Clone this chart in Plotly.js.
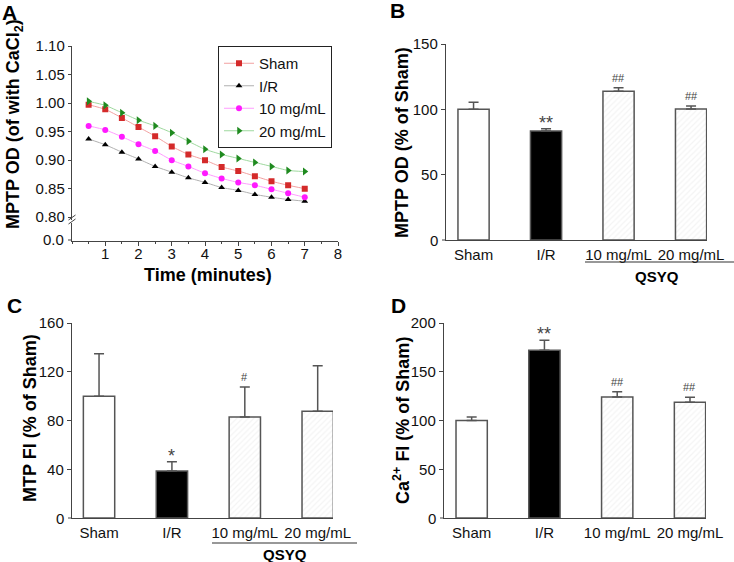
<!DOCTYPE html>
<html>
<head>
<meta charset="utf-8">
<script src="https://cdn.plot.ly/plotly-3.0.1.min.js"></script>
<style>html,body{margin:0;padding:0;background:#fff;}#chart{width:734px;height:562px;}</style>
</head>
<body>
<div id="chart"></div>
<script>
// ---- Panel A data: MPTP OD over time ----
const time = [0.5, 1, 1.5, 2, 2.5, 3, 3.5, 4, 4.5, 5, 5.5, 6, 6.5, 7];
const odSham = [0.997, 0.989, 0.974, 0.958, 0.942, 0.924, 0.910, 0.900, 0.888, 0.881, 0.872, 0.863, 0.856, 0.850];
const odIR   = [0.937, 0.927, 0.914, 0.902, 0.889, 0.879, 0.869, 0.861, 0.852, 0.847, 0.840, 0.835, 0.831, 0.828];
const od10   = [0.960, 0.953, 0.941, 0.928, 0.916, 0.900, 0.889, 0.877, 0.868, 0.861, 0.856, 0.849, 0.842, 0.835];
const od20   = [1.003, 0.996, 0.983, 0.970, 0.960, 0.948, 0.933, 0.919, 0.910, 0.903, 0.896, 0.889, 0.882, 0.880];
const seriesNames = ['Sham', 'I/R', '10 mg/mL', '20 mg/mL'];
const aTickVals = [0.80, 0.85, 0.90, 0.95, 1.00, 1.05, 1.10];
const timeTicks = [1, 2, 3, 4, 5, 6, 7, 8];

// ---- Bar panels ----
const groups = ['Sham', 'I/R', '10 mg/mL', '20 mg/mL'];
const mptpOD = [100, 83.5, 113.8, 100.3];
const mptpODErr = [5.4, 1.7, 2.8, 2.3];
const mtpFI = [100, 38.6, 82.9, 87.5];
const mtpFIErr = [34.8, 7.6, 24.6, 37.5];
const caFI = [100, 172, 124.1, 118.6];
const caFIErr = [3.7, 10.2, 5.5, 5.2];
const sigB = ['', '**', '##', '##'];
const sigC = ['', '*', '#', ''];
const sigD = ['', '**', '##', '##'];
const ticksB = [50, 100, 150];
const ticksC = [40, 80, 120, 160];
const ticksD = [50, 100, 150, 200];

const W = 734, H = 562;
const px = v => v / W;
const py = v => 1 - v / H;
const FONT = 'Arial, "Liberation Sans", sans-serif';
const AX = '#444';

const lineCols = ['#f2a0a0', '#b0b0b0', '#ff9cff', '#9ed89e'];
const markCols = ['#d42a2a', '#000000', '#ff1aff', '#1f8a1f'];
const symbols = ['square', 'triangle-up', 'circle', 'triangle-right'];
const odSeries = [odSham, odIR, od10, od20];

const traces = [];
odSeries.forEach((ys, i) => {
  traces.push({
    type: 'scatter', mode: 'lines+markers', x: time, y: ys, name: seriesNames[i],
    xaxis: 'x', yaxis: 'y',
    line: {color: lineCols[i], width: 1, shape: 'spline', smoothing: 0.6},
    marker: {color: markCols[i], symbol: symbols[i], size: i === 3 ? 7 : 6}
  });
});

const barColors = ['#ffffff', '#000000', '#f4f4f4', '#f4f4f4'];
function barTrace(vals, errs, xa, ya) {
  return {
    type: 'bar', x: groups, y: vals, xaxis: xa, yaxis: ya, width: 0.43, showlegend: false,
    marker: {
      color: barColors,
      line: {color: '#555', width: 1.5},
      pattern: {shape: ['', '', '/', '/'], fgcolor: '#cfcfcf', bgcolor: barColors, size: 4, solidity: 0.3}
    },
    error_y: {type: 'data', array: errs, arrayminus: groups.map(() => 0), symmetric: false,
              color: '#555', thickness: 1.5, width: 5}
  };
}
traces.push(barTrace(mptpOD, mptpODErr, 'x2', 'y3'));
traces.push(barTrace(mtpFI, mtpFIErr, 'x3', 'y4'));
traces.push(barTrace(caFI, caFIErr, 'x4', 'y5'));

const tickFont = {family: FONT, size: 15, color: '#111'};
function catAxis(d0, d1, anchor, lo, hi) {
  return {domain: [px(d0), px(d1)], anchor: anchor, type: 'category', range: [lo, hi],
    showline: true, linecolor: AX, linewidth: 1.2, showgrid: false, zeroline: false,
    ticks: 'outside', ticklen: 1, tickcolor: 'rgba(0,0,0,0)', tickfont: tickFont};
}
function valAxis(top, bot, anchor, max, tv) {
  return {domain: [py(bot), py(top)], anchor: anchor, range: [0, max], tickvals: tv,
    showline: true, linecolor: AX, linewidth: 1.2, showgrid: false, zeroline: false,
    ticks: 'outside', ticklen: 4, tickcolor: AX, tickfont: tickFont};
}

const annotations = [];
const shapes = [];
function note(text, x, y, size, extra) {
  annotations.push(Object.assign({text: text, xref: 'paper', yref: 'paper', x: px(x), y: py(y),
    xanchor: 'center', yanchor: 'middle', showarrow: false,
    font: {family: FONT, size: size, color: '#000'}}, extra || {}));
}
// panel letters
[['A', 9, 12], ['B', 397, 11], ['C', 14, 305], ['D', 398, 305]].forEach(([t, x, y]) => note('<b>' + t + '</b>', x, y, 21));
// y titles
[['<b>MPTP OD (of with CaCl<sub>2</sub>)</b>', 15, 124],
 ['<b>MPTP OD (% of Sham)</b>', 402, 143],
 ['<b>MTP FI (% of Sham)</b>', 30, 418],
 ['<b>Ca<sup>2+</sup> FI (% of Sham)</b>', 401, 421]].forEach(([t, x, y]) => note(t, x, y, 18, {textangle: -90}));
// x title A
note('<b>Time (minutes)</b>', 208, 275, 18);
// zero labels at the axis origins (plotly hides the corner tick label)
[['0.0', 66, 'y2'], ['0', 440, 'y3'], ['0', 66, 'y4'], ['0', 438, 'y5']].forEach(([t, x, ya]) => {
  annotations.push({text: t, xref: 'paper', yref: ya, x: px(x), y: 0, xanchor: 'right', yanchor: 'middle',
    showarrow: false, font: tickFont});
});
// QSYQ brackets
[[585, 734, 262, 657, 276], [212, 357, 543, 285, 554]].forEach(([x0, x1, yl, xt, yt]) => {
  shapes.push({type: 'line', xref: 'paper', yref: 'paper', x0: px(x0), x1: px(x1), y0: py(yl), y1: py(yl),
    line: {color: '#333', width: 1.2}});
  note('<b>QSYQ</b>', xt, yt, 15);
});
// significance marks
function sig(marks, vals, errs, xa, ya) {
  marks.forEach((m, i) => {
    if (!m) return;
    const star = m[0] === '*';
    annotations.push({text: m, xref: xa, yref: ya, x: groups[i], y: vals[i] + errs[i],
      xanchor: 'center', yanchor: 'middle', yshift: star ? 6 : 10, showarrow: false,
      font: {family: FONT, size: star ? 18 : 11, color: '#444'}});
  });
}
sig(sigB, mptpOD, mptpODErr, 'x2', 'y3');
sig(sigC, mtpFI, mtpFIErr, 'x3', 'y4');
sig(sigD, caFI, caFIErr, 'x4', 'y5');
// axis break marks (panel A)
[217.5, 221.5].forEach(y => {
  shapes.push({type: 'line', xref: 'paper', yref: 'paper', x0: px(68.5), x1: px(75.5), y0: py(y + 2.5), y1: py(y - 2.5),
    line: {color: AX, width: 1}});
});
// small tick marks at the origin of each value axis
[[72, 240], [446, 240], [72, 518], [444, 518]].forEach(([x, y]) => {
  shapes.push({type: 'line', xref: 'paper', yref: 'paper', x0: px(x - 4), x1: px(x), y0: py(y), y1: py(y),
    line: {color: AX, width: 1}});
});

const layout = {
  width: W, height: H, margin: {l: 0, r: 0, t: 0, b: 0},
  paper_bgcolor: '#fff', plot_bgcolor: 'rgba(0,0,0,0)',
  font: {family: FONT, color: '#111'},
  showlegend: true,
  legend: {x: px(218), y: py(46), xanchor: 'left', yanchor: 'top', bgcolor: '#fff',
    bordercolor: '#222', borderwidth: 1, font: {family: FONT, size: 15, color: '#111'},
    itemwidth: 30, tracegroupgap: 0},
  xaxis: {domain: [px(72), px(338)], anchor: 'y2', range: [0, 8], tickvals: timeTicks,
    showline: true, linecolor: AX, linewidth: 1.2, showgrid: false, zeroline: false,
    ticks: 'outside', ticklen: 4, tickcolor: AX, tickfont: tickFont, ticklabelstandoff: -5,
    minor: {tickmode: 'linear', tick0: 0, dtick: 0.5, ticks: 'outside', ticklen: 2, tickcolor: AX}},
  yaxis: {domain: [py(219.5), py(46)], anchor: 'x', range: [0.796, 1.10], tickvals: aTickVals, tickformat: '.2f',
    showline: true, linecolor: AX, linewidth: 1.2, showgrid: false, zeroline: false,
    ticks: 'outside', ticklen: 3, tickcolor: AX, tickfont: tickFont},
  yaxis2: {domain: [py(241), py(223)], anchor: 'x', range: [-0.06, 1], showticklabels: false,
    showline: true, linecolor: AX, linewidth: 1.2, showgrid: false, zeroline: false, ticks: ''},
  xaxis2: catAxis(446, 707, 'y3', -0.38, 3.22),
  yaxis3: valAxis(44, 240, 'x2', 150, ticksB),
  xaxis3: catAxis(72, 333, 'y4', -0.371, 3.21),
  yaxis4: valAxis(323, 518, 'x3', 160, ticksC),
  xaxis4: catAxis(444, 706, 'y5', -0.38, 3.22),
  yaxis5: valAxis(323, 518, 'x4', 200, ticksD),
  annotations: annotations,
  shapes: shapes
};

Plotly.newPlot('chart', traces, layout, {staticPlot: true, displayModeBar: false});
</script>
</body>
</html>
